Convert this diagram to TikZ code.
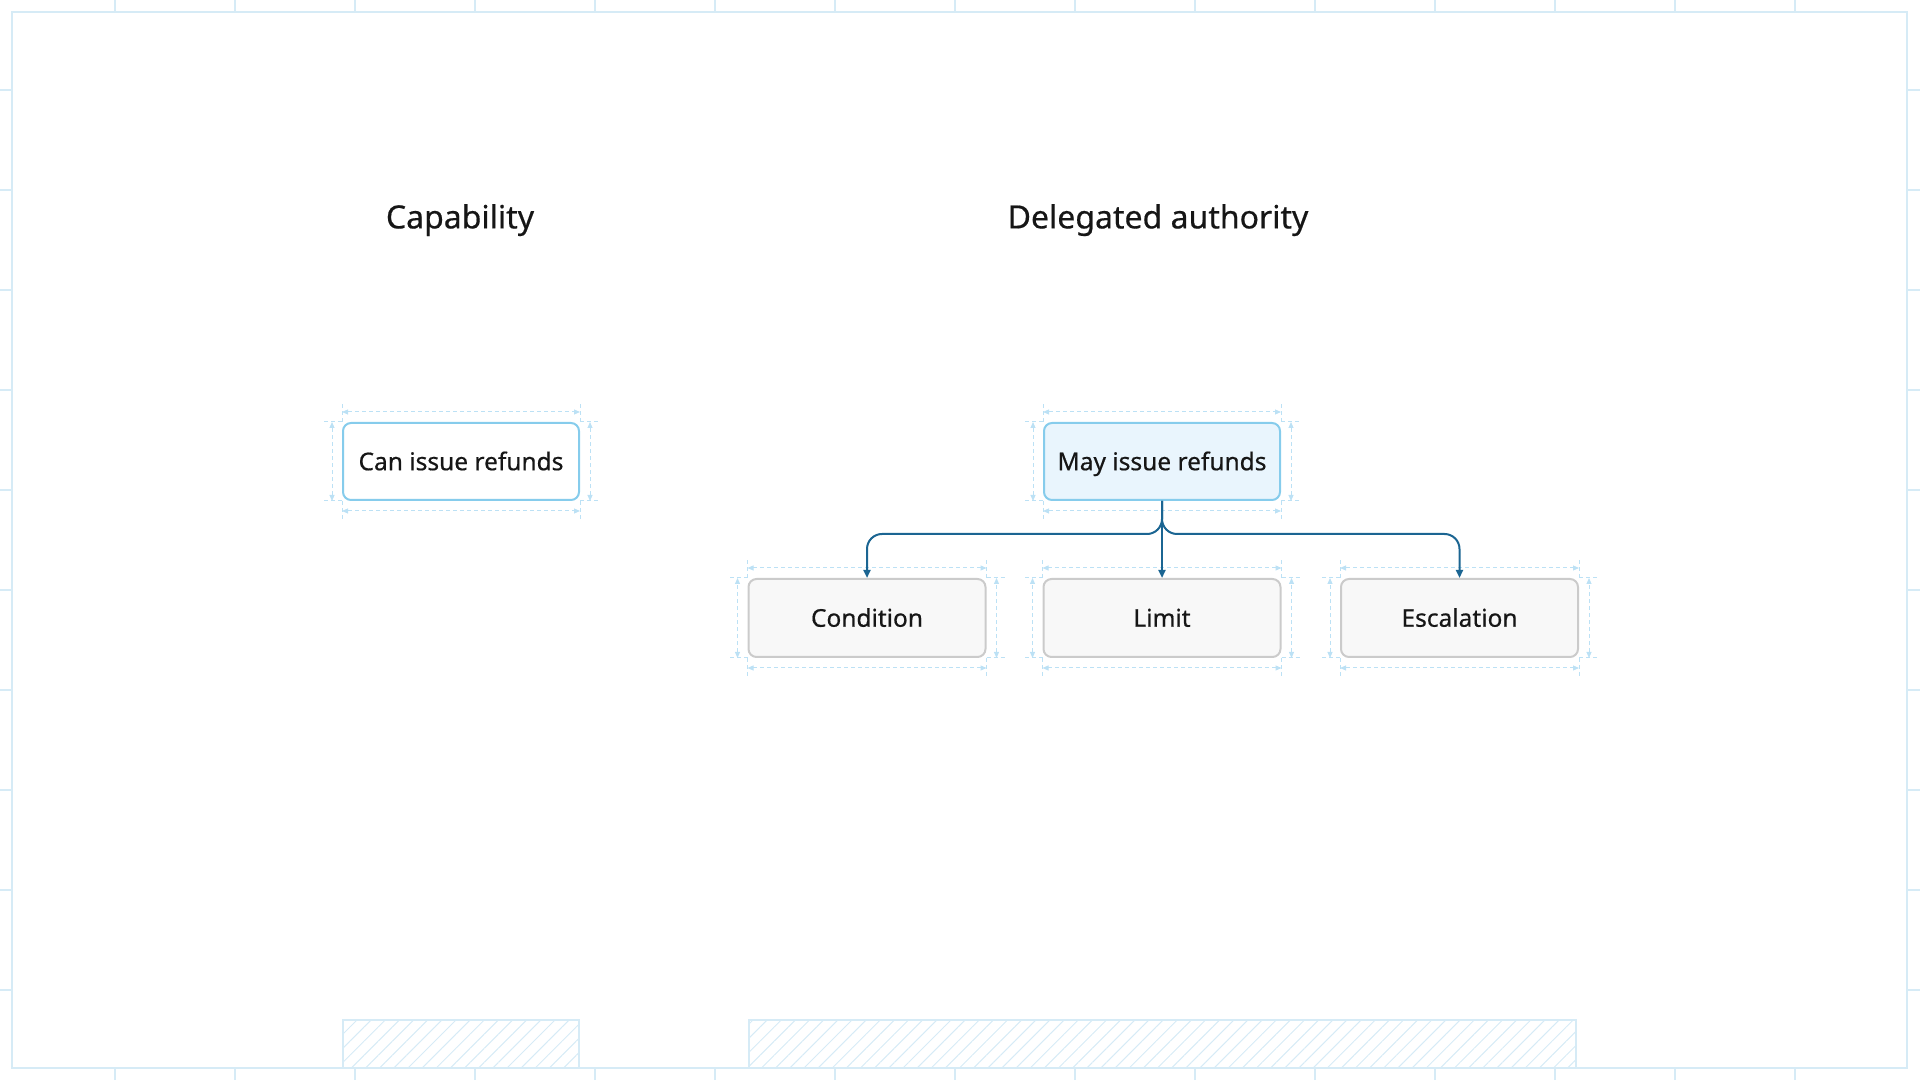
\documentclass[tikz,border=0pt]{standalone}
\usepackage{fontspec}
\setmainfont{Noto Sans}
\newfontfamily\medfont{Noto Sans}[FakeBold=0.5]
\usepackage{tikz}
\usetikzlibrary{arrows.meta,positioning,calc,patterns.meta}
\definecolor{grid}{HTML}{D6EBF6}
\definecolor{dimln}{HTML}{BCE1F5}
\definecolor{capedge}{HTML}{86CCEC}
\definecolor{mayfill}{HTML}{E9F5FD}
\definecolor{subedge}{HTML}{CBCBCB}
\definecolor{subfill}{HTML}{F8F8F8}
\definecolor{link}{HTML}{1B6592}
\definecolor{ink}{HTML}{161616}

\begin{document}
\begin{tikzpicture}[
    x=1pt, y=1pt,
    every node/.style={font=\medfont\fontsize{24.5}{30}\selectfont, text=ink, text height=17.5pt, text depth=0pt},
    box/.style={rectangle, rounded corners=8pt, line width=2pt, minimum width=236pt, minimum height=77pt, inner sep=0pt},
    capbox/.style={box, draw=capedge, fill=white},
    maybox/.style={box, draw=capedge, fill=mayfill},
    subbox/.style={box, draw=subedge, fill=subfill, minimum width=237pt, minimum height=78pt},
    title/.style={font=\medfont\fontsize{32}{38}\selectfont, text height=22.8pt},
    arr/.style={-{Triangle[length=8pt,width=7pt]}, line width=2pt, draw=link, rounded corners=15pt},
    dim/.style={{Triangle[length=6pt,width=5pt]}-{Triangle[length=6pt,width=5pt]}, dimln, line width=1pt, dash pattern=on 4pt off 3pt},
    ext/.style={dimln, line width=1pt, dash pattern=on 4pt off 3pt},
    frame/.style={grid, line width=2pt},
  ]
  \useasboundingbox (0,0) rectangle (1920,1080);

  % outer frame, with ruler ticks every 120 across and 100 down
  \draw[frame] (12,12) rectangle (1907,1068);
  \foreach \x in {115,235,...,1795} {
    \draw[frame] (\x,1068) -- (\x,1080);
    \draw[frame] (\x,0) -- (\x,12);
  }
  \foreach \y in {90,190,...,990} {
    \draw[frame] (0,\y) -- (12,\y);
    \draw[frame] (1907,\y) -- (1920,\y);
  }

  % column titles
  \node[title] (tcap) at (460,863)  {Capability};
  \node[title] (tdel) at (1158,863) {Delegated authority};

  % left column: one box; right column: parent and three children
  \node[capbox] (can)  at (461,618.5)  {Can issue refunds};
  \node[maybox] (may)  at (1162,618.5) {May issue refunds};
  \node[subbox] (cond) at (867,462)    {Condition};
  \node[subbox] (lim)  at (1162,462)   {Limit};
  \node[subbox] (esc)  at (1459.5,462) {Escalation};

  % dimension marks round every box (dashed, arrows both ends)
  \foreach \n in {can,may,cond,lim,esc} {
    \draw[dim] ([yshift=10pt]\n.north west)  -- ([yshift=10pt]\n.north east);
    \draw[dim] ([yshift=-10pt]\n.south west) -- ([yshift=-10pt]\n.south east);
    \draw[dim] ([xshift=-10pt]\n.south west) -- ([xshift=-10pt]\n.north west);
    \draw[dim] ([xshift=10pt]\n.south east)  -- ([xshift=10pt]\n.north east);
    \draw[ext] (\n.north west) -- +(0,20) (\n.north west) -- +(-20,0)
               (\n.north east) -- +(0,20) (\n.north east) -- +(20,0)
               (\n.south west) -- +(0,-20) (\n.south west) -- +(-20,0)
               (\n.south east) -- +(0,-20) (\n.south east) -- +(20,0);
  }

  % parent -> children (side ones bend at y=545)
  \draw[arr] (may.south) |- ([yshift=44pt]cond.north) -- (cond.north);
  \draw[arr] (may.south) -- (lim.north);
  \draw[arr] (may.south) |- ([yshift=44pt]esc.north) -- (esc.north);

  % hatched footer bars under each column
  \draw[grid, line width=1.5pt, pattern={Lines[angle=45,distance=10pt,line width=1pt]}, pattern color=grid]
    (343,12) rectangle (579,60);
  \draw[grid, line width=1.5pt, pattern={Lines[angle=45,distance=10pt,line width=1pt]}, pattern color=grid]
    (749,12) rectangle (1576,60);
\end{tikzpicture}
\end{document}
